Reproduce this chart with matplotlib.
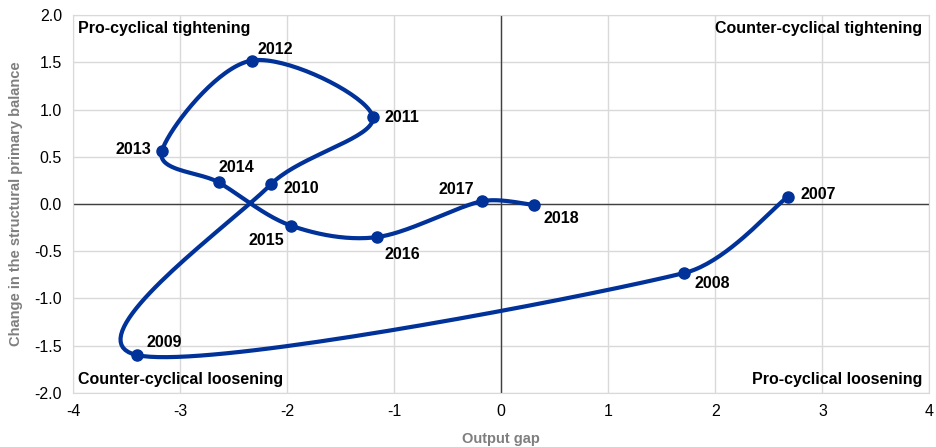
import numpy as np
import matplotlib.pyplot as plt

years = ['2007', '2008', '2009', '2010', '2011', '2012', '2013',
         '2014', '2015', '2016', '2017', '2018']
output_gap = [2.68, 1.71, -3.40, -2.15, -1.20, -2.33, -3.17,
              -2.64, -1.96, -1.16, -0.18, 0.31]
balance_change = [0.08, -0.73, -1.60, 0.21, 0.92, 1.52, 0.56,
                  0.23, -0.23, -0.35, 0.03, -0.01]
# label offsets in pixels (dx, dy) and alignment
label_pos = {
    '2007': (12, 2, 'left'), '2008': (10, -11, 'left'), '2009': (9, 13, 'left'),
    '2010': (12, -4, 'left'), '2011': (12, 0, 'left'), '2012': (6, 11, 'left'),
    '2013': (-11, 2, 'right'), '2014': (0, 15, 'left'), '2015': (-7, -15, 'right'),
    '2016': (7, -17, 'left'), '2017': (-8, 12, 'right'), '2018': (9, -14, 'left'),
}

blue = '#003299'
plt.rcParams['font.family'] = ['Liberation Sans', 'DejaVu Sans']
plt.rcParams['axes.unicode_minus'] = False

fig = plt.figure(figsize=(9.36, 4.47), dpi=100)
ax = fig.add_axes([0.078, 0.121, 0.915, 0.845])
ax.set_xlim(-4, 4)
ax.set_ylim(-2, 2)


def smooth(xs, ys, sx, sy, n=40):
    # excel-like bezier smoothing, done in pixel-ish space
    p = np.column_stack([np.array(xs) * sx, np.array(ys) * sy])
    pts = [p[0]] + list(p) + [p[-1]]
    out = []
    for i in range(1, len(pts) - 2):
        p0, p1, p2, p3 = pts[i - 1], pts[i], pts[i + 1], pts[i + 2]
        seglen = np.hypot(*(p2 - p1))
        a1 = (p2 - p0) / 6
        a2 = (p3 - p1) / 6
        for a in (a1, a2):
            L = np.hypot(*a)
            if L > seglen / 3:
                a *= (seglen / 3) / L
        c1 = p1 + a1
        c2 = p2 - a2
        t = np.linspace(0, 1, n)[:, None]
        seg = (1 - t) ** 3 * p1 + 3 * (1 - t) ** 2 * t * c1 + 3 * (1 - t) * t ** 2 * c2 + t ** 3 * p2
        out.append(seg)
    out = np.vstack(out)
    return out[:, 0] / sx, out[:, 1] / sy


sx, sy = 107.0, 95.0
cx, cy = smooth(output_gap, balance_change, sx, sy)

ax.set_xticks(np.arange(-4, 5, 1))
ax.set_yticks(np.arange(-2, 2.01, 0.5))
ax.set_yticklabels([f'{v:.1f}' for v in np.arange(-2, 2.01, 0.5)])
ax.grid(True, color='#d9d9d9', linewidth=1)
ax.set_axisbelow(True)
for s in ax.spines.values():
    s.set_color('#d9d9d9')
ax.axhline(0, color='#404040', linewidth=1, zorder=1)
ax.axvline(0, color='#404040', linewidth=1, zorder=1)
ax.tick_params(length=0, labelsize=11.5, pad=8, colors='black')

ax.plot(cx, cy, color=blue, linewidth=3, solid_capstyle='round', zorder=3)
ax.plot(output_gap, balance_change, 'o', color=blue, markersize=8, zorder=4)

for x, y, yr in zip(output_gap, balance_change, years):
    dx, dy, ha = label_pos[yr]
    ax.annotate(yr, (x, y), xytext=(dx, dy), textcoords='offset pixels',
                ha=ha, va='center', fontsize=11.5, fontweight='bold', zorder=5)

ax.text(0.006, 0.965, 'Pro-cyclical tightening', transform=ax.transAxes,
        ha='left', va='center', fontsize=11.5, fontweight='bold')
ax.text(0.992, 0.965, 'Counter-cyclical tightening', transform=ax.transAxes,
        ha='right', va='center', fontsize=11.5, fontweight='bold')
ax.text(0.006, 0.035, 'Counter-cyclical loosening', transform=ax.transAxes,
        ha='left', va='center', fontsize=11.5, fontweight='bold')
ax.text(0.992, 0.035, 'Pro-cyclical loosening', transform=ax.transAxes,
        ha='right', va='center', fontsize=11.5, fontweight='bold')

ax.set_xlabel('Output gap', fontsize=10.5, fontweight='bold', color='#7f7f7f', labelpad=9)
ax.set_ylabel('Change in the structural primary balance', fontsize=10.5,
              fontweight='bold', color='#7f7f7f', labelpad=8)

fig.savefig('out.png', dpi=100)
